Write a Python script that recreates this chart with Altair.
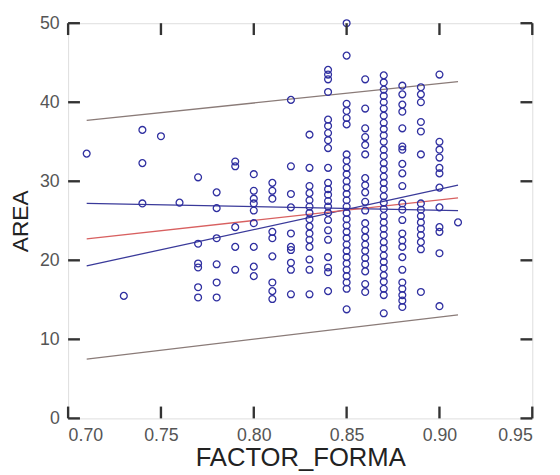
import altair as alt
import pandas as pd

# ---- scatter data: FACTOR_FORMA columns and the AREA values read in each ----
factor_cols = [0.71, 0.73, 0.74, 0.75, 0.76, 0.77, 0.78, 0.79, 0.80, 0.81,
               0.82, 0.83, 0.84, 0.85, 0.86, 0.87, 0.88, 0.89, 0.90, 0.91]
area_by_col = [
    [33.5], [15.5], [36.5, 32.3, 27.2], [35.7], [27.3],
    [30.5, 22.1, 19.6, 19.1, 16.6, 15.3],
    [28.6, 26.6, 22.8, 19.5, 17.2, 15.3],
    [32.5, 31.9, 24.2, 21.7, 18.8],
    [30.9, 28.8, 27.8, 27.2, 26.3, 24.7, 21.7, 19.2, 18.0],
    [29.8, 28.8, 27.8, 23.6, 22.8, 20.5, 17.2, 16.1, 15.1],
    [40.3, 31.9, 28.4, 26.7, 23.4, 21.7, 21.3, 19.7, 18.8, 15.7],
    [35.9, 31.7, 29.4, 28.5, 27.6, 26.8, 26.0, 25.2, 24.3, 23.4, 22.6, 21.7,
     20.1, 18.8, 15.7],
    [44.1, 43.5, 42.9, 41.3, 37.8, 37.0, 36.1, 35.2, 34.2, 31.7, 29.8, 29.0,
     28.3, 27.5, 26.8, 26.0, 25.1, 23.8, 22.6, 20.4, 19.1, 18.5, 16.1],
    [50.0, 45.9, 39.8, 38.9, 38.0, 37.2, 33.4, 32.6, 31.7, 30.9, 30.0, 29.2,
     28.4, 27.6, 26.8, 26.0, 25.2, 24.4, 23.6, 22.8, 22.0, 21.2, 20.4, 19.6,
     18.8, 18.0, 17.2, 16.4, 13.8],
    [42.9, 39.2, 36.7, 35.6, 34.6, 33.4, 30.4, 29.5, 28.6, 27.4, 26.3, 24.7,
     23.8, 22.9, 22.0, 21.2, 20.3, 19.5, 18.6, 17.0, 16.0],
    [43.4, 42.5, 41.6, 40.8, 40.0, 39.2, 38.3, 37.4, 36.6, 35.8, 35.0, 34.0,
     33.2, 32.3, 31.5, 30.6, 29.8, 29.0, 28.1, 27.3, 26.5, 25.6, 24.8, 24.0,
     23.2, 22.3, 21.5, 20.6, 19.8, 19.0, 18.1, 17.3, 16.4, 15.6, 13.3],
    [42.1, 41.0, 39.7, 38.8, 36.7, 34.4, 34.0, 32.2, 31.0, 29.4, 27.2, 26.4,
     25.1, 23.4, 22.5, 21.7, 20.4, 18.8, 17.2, 16.4, 15.6, 14.9, 14.1],
    [41.9, 41.0, 40.0, 37.5, 36.3, 33.4, 27.2, 26.4, 25.6, 24.8, 24.0, 23.2,
     22.3, 21.4, 16.0],
    [43.5, 35.0, 34.0, 33.0, 31.7, 31.0, 29.2, 26.7, 24.2, 23.6, 20.9, 14.2],
    [24.8],
]

# ---- fitted line, confidence and prediction bands (end points) ----
line_x = [0.71, 0.91]
fit_line = [22.7, 27.9]
pred_upper = [37.7, 42.6]
pred_lower = [7.5, 13.1]
conf_a = [27.2, 26.3]
conf_b = [19.3, 29.5]

x_ticks = [0.70, 0.75, 0.80, 0.85, 0.90, 0.95]
y_ticks = [0, 10, 20, 30, 40, 50]
x_min, x_max = 0.70, 0.95
y_min, y_max = 0, 50

pts = pd.DataFrame(
    [(x, y) for x, ys in zip(factor_cols, area_by_col) for y in ys],
    columns=["FACTOR_FORMA", "AREA"],
)
series = [("pu", pred_upper), ("pl", pred_lower), ("ca", conf_a),
          ("cb", conf_b), ("fit", fit_line)]
lines = pd.DataFrame(
    [(name, x, y) for name, ys in series for x, y in zip(line_x, ys)],
    columns=["series", "FACTOR_FORMA", "AREA"],
)
xt = pd.DataFrame({"tx": x_ticks})
yt = pd.DataFrame({"ty": y_ticks})

FONT = "Liberation Sans"
xscale = alt.Scale(domain=[x_min, x_max], nice=False, zero=False)
yscale = alt.Scale(domain=[y_min, y_max], nice=False)

base_axis = dict(grid=False, domain=False, ticks=False,
                 labelFont=FONT, labelFontSize=18, labelColor="#555555",
                 titleFont=FONT, titleFontWeight="normal",
                 titleColor="#222222")

points = alt.Chart(pts).mark_point(
    shape="circle", filled=False, size=48, strokeWidth=1.3,
    color="#2f2fa0", opacity=1,
).encode(
    x=alt.X("FACTOR_FORMA:Q", scale=xscale,
            axis=alt.Axis(orient="bottom", values=x_ticks, format=".2f",
                          title="FACTOR_FORMA", labelPadding=8,
                          titlePadding=1, titleFontSize=26, **base_axis)),
    y=alt.Y("AREA:Q", scale=yscale,
            axis=alt.Axis(orient="left", values=y_ticks, format="d",
                          title="AREA", labelPadding=9, titlePadding=7,
                          titleFontSize=23, **base_axis)),
)

line_layer = alt.Chart(lines).mark_line(strokeWidth=1.3).encode(
    x=alt.X("FACTOR_FORMA:Q"),
    y=alt.Y("AREA:Q"),
    color=alt.Color("series:N", legend=None,
                    scale=alt.Scale(domain=["pu", "pl", "ca", "cb", "fit"],
                                    range=["#8a7b78", "#8a7b78", "#3a3a9a",
                                           "#3a3a9a", "#d86060"])),
    detail="series:N",
)

# inward tick marks along the frame, one per tick value
RULE = dict(color="#333333", strokeWidth=2.4, opacity=1)
ticks_bottom = alt.Chart(xt).mark_rule(**RULE).encode(
    x=alt.X("tx:Q"), y=alt.value(401), y2=alt.value(389))
ticks_top = alt.Chart(xt).mark_rule(**RULE).encode(
    x=alt.X("tx:Q"), y=alt.value(0), y2=alt.value(12))
ticks_left = alt.Chart(yt).mark_rule(**RULE).encode(
    y=alt.Y("ty:Q"), x=alt.value(0), x2=alt.value(12))
ticks_right = alt.Chart(yt).mark_rule(**RULE).encode(
    y=alt.Y("ty:Q"), x=alt.value(459), x2=alt.value(471))

chart = alt.layer(
    line_layer, points, ticks_bottom, ticks_top, ticks_left, ticks_right
).properties(
    width=471, height=401,
    autosize=alt.AutoSizeParams(type="none"),
    padding={"left": 61, "top": 12, "right": 20, "bottom": 54},
).configure_view(
    stroke="#777777", strokeWidth=1.8
).configure(background="white")

chart.save("out.html", embed_options={"renderer": "svg", "actions": False})
